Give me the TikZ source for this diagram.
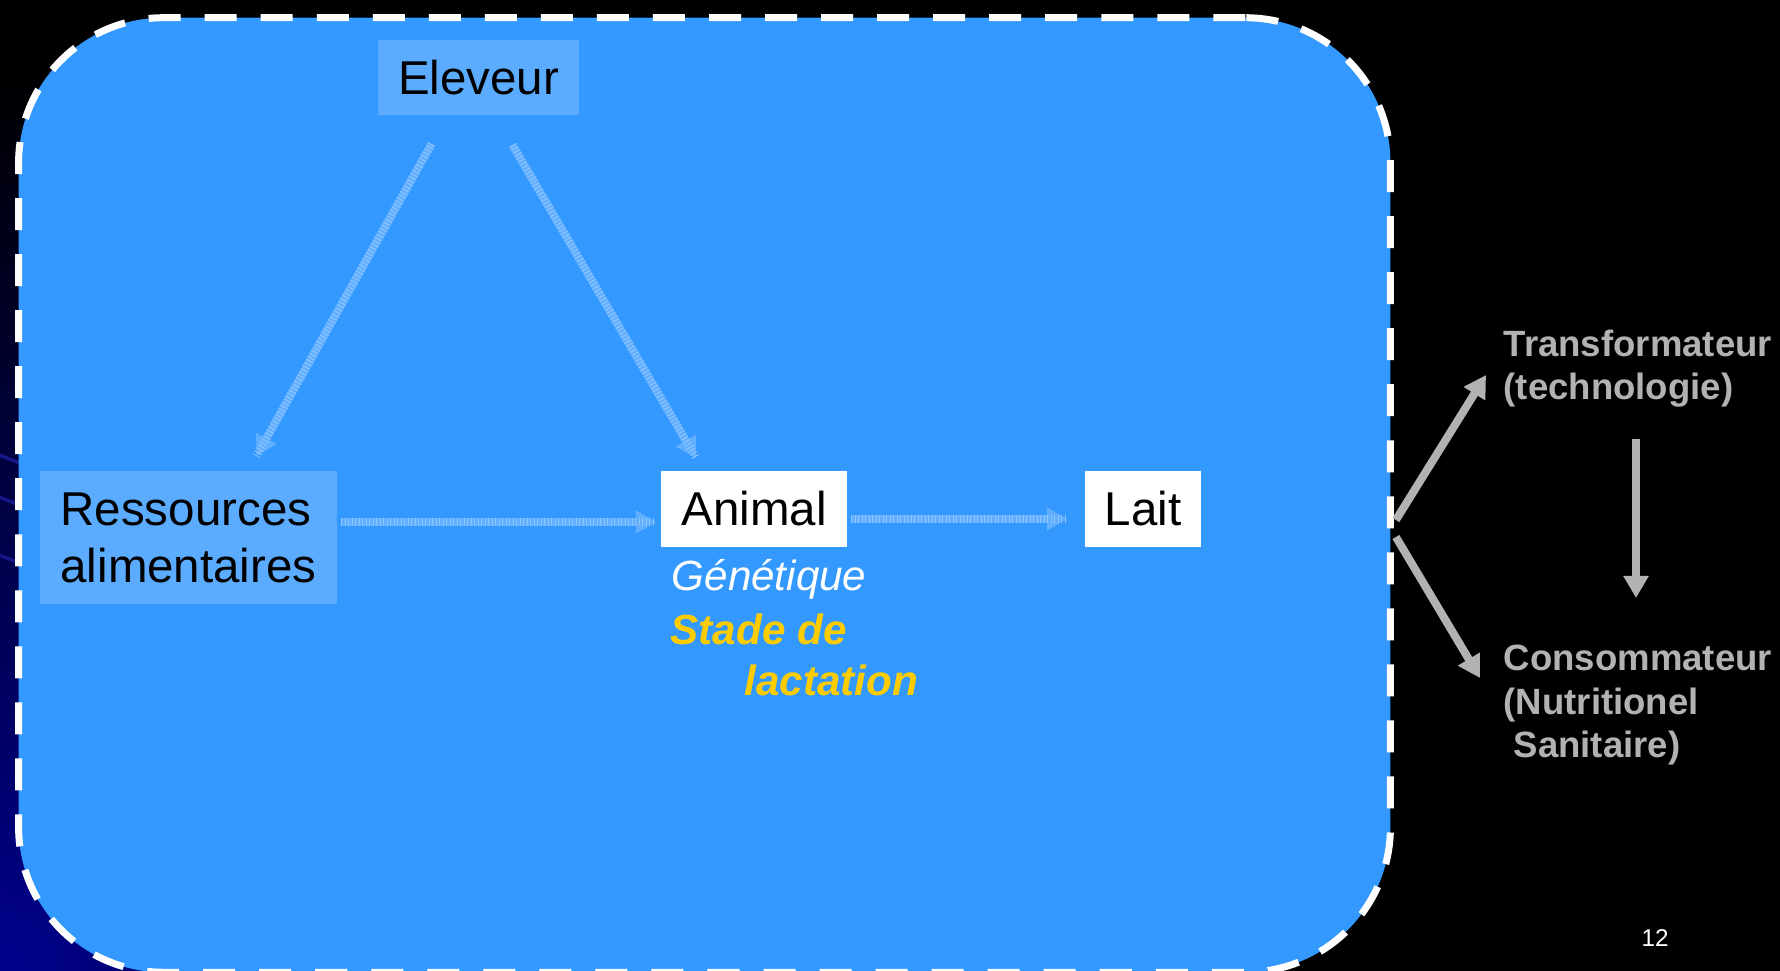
\documentclass[tikz,border=0pt]{standalone}
\usepackage{fontspec}
\setmainfont{Liberation Sans}
\usetikzlibrary{arrows.meta,calc}

\definecolor{panel}{RGB}{51,153,255}
\definecolor{tile}{RGB}{91,171,255}
\definecolor{flow}{RGB}{98,174,255}
\definecolor{flowhi}{RGB}{140,198,255}
\definecolor{outgray}{RGB}{178,178,178}
\definecolor{gold}{RGB}{255,204,0}
\definecolor{navy}{RGB}{0,0,140}
\definecolor{streak}{RGB}{22,22,135}

\begin{document}
\begin{tikzpicture}[x=0.01cm,y=-0.01cm,
  zone/.style={draw=white, fill=panel, line width=0.07cm,
    dash pattern=on 0.32cm off 0.24cm, rounded corners=1.45cm,
    minimum width=13.71cm, minimum height=9.54cm, inner sep=0pt},
  tilebox/.style={fill=tile, inner sep=0pt, outer sep=0pt, text=black,
    align=left, font=\fontsize{13.5}{16.2}\selectfont},
  whitebox/.style={tilebox, fill=white},
  trait/.style={anchor=base west, inner sep=0pt,
    font=\fontsize{12}{14.8}\selectfont\itshape},
  outtext/.style={anchor=base west, inner sep=0pt, align=left, text=outgray,
    font=\fontsize{10.4}{12.5}\selectfont\bfseries},
  flowarrow/.style={draw=flow, line width=0.08cm,
    -{Triangle[width=0.22cm,length=0.2cm]},
    postaction={draw=flowhi, line width=0.08cm, dash pattern=on 0.01cm off 0.025cm, -}},
  outarrow/.style={draw=outgray, line width=0.08cm,
    -{Triangle[width=0.24cm,length=0.22cm]}}
]
\useasboundingbox (0,0) rectangle (1780,971);

% slide background
\fill[black] (0,0) rectangle (1780,971);
\begin{scope}
  \clip (0,0) rectangle (1780,971);
  \shade[inner color=navy, outer color=black] (0,971) circle (9cm);
  \draw[streak, line width=0.035cm] (-20,448) -- (60,478);
  \draw[streak, line width=0.035cm] (-20,490) -- (60,520);
  \draw[streak, line width=0.035cm] (-20,548) -- (60,578);
\end{scope}

% dashed panel
\node[zone] (zone) at (704.5,495) {};

% boxes
\node[tilebox, minimum width=2.01cm, minimum height=0.75cm] (elev) at (478.5,77.5) {Eleveur};
\node[tilebox, minimum width=2.97cm, minimum height=1.33cm] (res) at (188.5,537.5) {Ressources\\alimentaires};
\node[whitebox, minimum width=1.86cm, minimum height=0.76cm] (anim) at (754,509) {Animal};
\node[whitebox, minimum width=1.16cm, minimum height=0.76cm] (lait) at (1143,509) {Lait};

% animal factors
\node[trait, text=white] (gen) at (671,591) {Génétique};
\node[trait, text=gold, font=\fontsize{12}{14.8}\selectfont\bfseries\itshape] (stade) at (670,645) {Stade de};
\node[trait, text=gold, font=\fontsize{12}{14.8}\selectfont\bfseries\itshape] (lact) at (744,696) {lactation};

% flows inside the panel
\draw[flowarrow] ($(elev.south)+(-47,29)$) -- ($(res.north)+(68,-15)$);
\draw[flowarrow] ($(elev.south)+(34,30)$) -- ($(anim.north)+(-58,-13)$);
\draw[flowarrow] ($(res.east)+(4,-15.5)$) -- ($(anim.west)+(-5,13)$);
\draw[flowarrow] ($(anim.east)+(4,10)$) -- ($(lait.west)+(-18,10)$);

% downstream actors (base anchor sits on the last line)
\node[outtext] (trans) at (1503,400) {Transformateur\\(technologie)};
\node[outtext] (cons) at (1503,758) {Consommateur\\(Nutritionel\\\hspace*{0.27em}Sanitaire)};

\coordinate (tipT) at (1486,375);
\coordinate (tipC) at (1480,678);
\coordinate (downA) at (1636,439);
\coordinate (downB) at (1636,598);

\draw[outarrow] ($(zone.east)+(2,25)$) -- (tipT);
\draw[outarrow] ($(zone.east)+(2,42)$) -- (tipC);
\draw[outarrow] (downA) -- (downB);

% slide number
\node[text=white, inner sep=0pt, font=\fontsize{6.9}{8}\selectfont] (num) at (1655,938) {12};
\end{tikzpicture}
\end{document}
